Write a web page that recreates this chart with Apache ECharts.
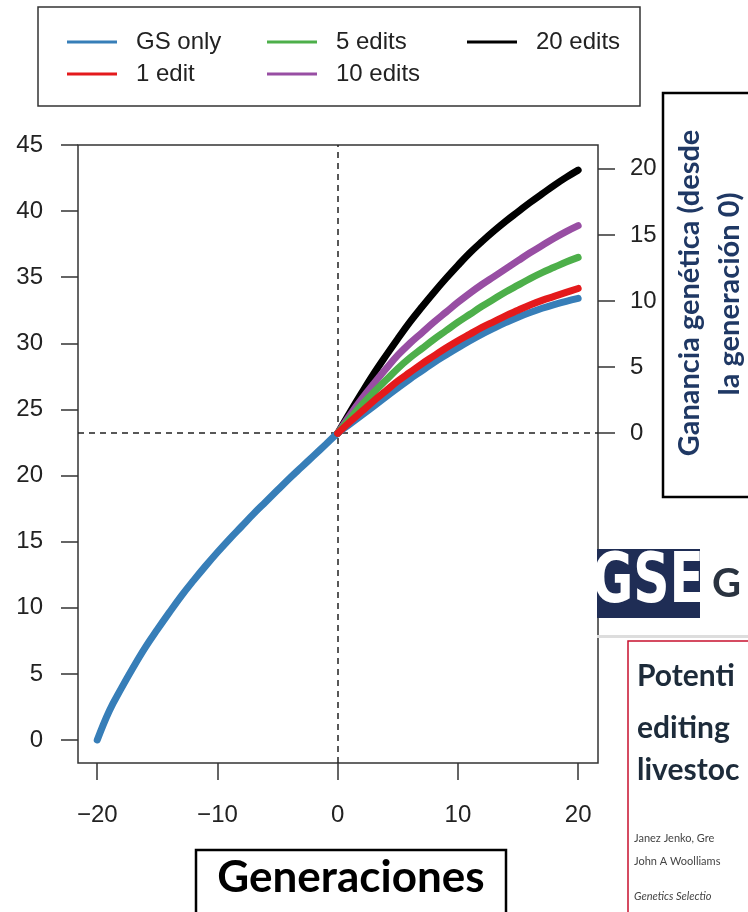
<!DOCTYPE html>
<html>
<head>
<meta charset="utf-8">
<script src="https://cdn.jsdelivr.net/npm/echarts@6/dist/echarts.min.js"></script>
<style>
  html, body { margin: 0; padding: 0; background: #fff; }
  #chart { width: 748px; height: 912px; }
</style>
</head>
<body>
<div id="chart"></div>
<script>
// generations on the x axis
var genAll = [-20, -19, -18, -17, -16, -15, -14, -13, -12, -11, -10, -9, -8, -7, -6, -5, -4, -3, -2, -1,
  0, 1, 2, 3, 4, 5, 6, 7, 8, 9, 10, 11, 12, 13, 14, 15, 16, 17, 18, 19, 20];
var genEdit = [0, 1, 2, 3, 4, 5, 6, 7, 8, 9, 10, 11, 12, 13, 14, 15, 16, 17, 18, 19, 20];

// GS only, left axis (genetic level)
var gsOnly = [0, 2.2, 3.9, 5.5, 7.0, 8.35, 9.65, 10.9, 12.05, 13.15, 14.2, 15.2, 16.15, 17.1, 18.0, 18.9, 19.8, 20.65, 21.5, 22.35,
  23.2, 23.88, 24.56, 25.25, 25.95, 26.63, 27.3, 27.92, 28.55, 29.12, 29.67, 30.2, 30.7, 31.15, 31.58, 31.98, 32.33, 32.65, 32.93, 33.18, 33.4];

// editing scenarios, right axis (gain since generation 0)
var edit1 = [0, 0.85, 1.65, 2.45, 3.2, 3.95, 4.6, 5.25, 5.85, 6.45, 7.0, 7.5, 8.0, 8.45, 8.9, 9.3, 9.7, 10.05, 10.35, 10.65, 10.95];
var edit5 = [0, 1.1, 2.15, 3.1, 4.0, 4.9, 5.7, 6.4, 7.1, 7.75, 8.4, 9.0, 9.6, 10.15, 10.7, 11.2, 11.7, 12.15, 12.55, 12.95, 13.3];
var edit10 = [0, 1.35, 2.6, 3.75, 4.85, 5.9, 6.8, 7.6, 8.4, 9.15, 9.9, 10.6, 11.25, 11.85, 12.45, 13.05, 13.65, 14.2, 14.75, 15.25, 15.7];
var edit20 = [0, 1.55, 3.05, 4.5, 5.85, 7.15, 8.4, 9.55, 10.65, 11.7, 12.7, 13.65, 14.5, 15.3, 16.05, 16.75, 17.45, 18.1, 18.75, 19.35, 19.9];

var xTicks = [-20, -10, 0, 10, 20];
var leftTicks = [0, 5, 10, 15, 20, 25, 30, 35, 40, 45];
var rightTicks = [0, 5, 10, 15, 20];

var levelAtGen0 = 23.2;
var yMin = -1.74, yMax = 45;

function pairs(xs, ys) {
  return xs.map(function (x, i) { return [x, ys[i]]; });
}

var axisFont = 'Liberation Sans, Arial, sans-serif';
var tickStyle = { color: '#333', width: 1.5 };
var curveStyle = { width: 7, cap: 'round', join: 'round' };

var dom = document.getElementById('chart');
var chart = echarts.init(dom);

var option = {
  animation: false,
  backgroundColor: '#fff',
  color: ['#377EB8', '#000000', '#984EA3', '#4DAF4A', '#E41A1C'],
  legend: [
    {
      data: ['GS only', '5 edits', '20 edits'],
      left: 62, top: 25,
      icon: 'rect', itemWidth: 50, itemHeight: 3, itemGap: 0,
      textStyle: { fontFamily: axisFont, fontSize: 24, color: '#222', width: 131, padding: [0, 0, 0, 14], lineHeight: 24 },
      selectedMode: false
    },
    {
      data: ['1 edit', '10 edits'],
      left: 62, top: 57,
      icon: 'rect', itemWidth: 50, itemHeight: 3, itemGap: 0,
      textStyle: { fontFamily: axisFont, fontSize: 24, color: '#222', width: 131, padding: [0, 0, 0, 14], lineHeight: 24 },
      selectedMode: false
    }
  ],
  grid: {
    left: 78, right: 150, top: 145, bottom: 149,
    show: true, borderColor: '#333', borderWidth: 1.5, backgroundColor: '#fff'
  },
  xAxis: {
    type: 'value', min: -21.6, max: 21.65,
    axisLine: { show: false, onZero: false },
    splitLine: { show: false },
    axisTick: { show: true, length: 17, lineStyle: tickStyle, customValues: xTicks },
    axisLabel: {
      customValues: xTicks, margin: 40, fontFamily: axisFont, fontSize: 24, color: '#222',
      formatter: function (v) { return String(v).replace('-', '\u2212'); }
    }
  },
  yAxis: [
    {
      type: 'value', min: yMin, max: yMax, position: 'left',
      axisLine: { show: false, onZero: false },
      splitLine: { show: false },
      axisTick: { show: true, length: 17, lineStyle: tickStyle, customValues: leftTicks },
      axisLabel: { customValues: leftTicks, margin: 35, fontFamily: axisFont, fontSize: 24, color: '#222' }
    },
    {
      type: 'value', min: yMin - levelAtGen0, max: yMax - levelAtGen0, position: 'right',
      axisLine: { show: false, onZero: false },
      splitLine: { show: false },
      axisTick: { show: true, length: 17, lineStyle: tickStyle, customValues: rightTicks },
      axisLabel: { customValues: rightTicks, margin: 32, fontFamily: axisFont, fontSize: 24, color: '#222' }
    }
  ],
  series: [
    {
      name: 'GS only', type: 'line', showSymbol: false, smooth: 0.4, data: pairs(genAll, gsOnly),
      lineStyle: curveStyle,
      markLine: {
        silent: true, symbol: 'none', z: 1,
        label: { show: false },
        lineStyle: { color: '#222', type: [6, 5], width: 1.5 },
        data: [{ xAxis: 0 }, { yAxis: levelAtGen0 }]
      }
    },
    { name: '20 edits', type: 'line', yAxisIndex: 1, showSymbol: false, smooth: 0.4, data: pairs(genEdit, edit20), lineStyle: curveStyle },
    { name: '10 edits', type: 'line', yAxisIndex: 1, showSymbol: false, smooth: 0.4, data: pairs(genEdit, edit10), lineStyle: curveStyle },
    { name: '5 edits', type: 'line', yAxisIndex: 1, showSymbol: false, smooth: 0.4, data: pairs(genEdit, edit5), lineStyle: curveStyle },
    { name: '1 edit', type: 'line', yAxisIndex: 1, showSymbol: false, smooth: 0.4, data: pairs(genEdit, edit1), lineStyle: curveStyle }
  ],
  graphic: [
    // legend frame
    { type: 'rect', shape: { x: 38, y: 7, width: 602, height: 99 }, style: { fill: 'none', stroke: '#333', lineWidth: 1.5 }, silent: true },
    // right axis title box
    { type: 'rect', shape: { x: 663, y: 93, width: 110, height: 404 }, style: { fill: 'none', stroke: '#000', lineWidth: 2.5 }, silent: true },
    { type: 'text', x: 690, y: 293, rotation: Math.PI / 2, silent: true,
      style: { text: 'Ganancia genética (desde', fill: '#1F3864', font: 'bold 29px Lato, "Open Sans", sans-serif', textAlign: 'center', textVerticalAlign: 'middle' } },
    { type: 'text', x: 730, y: 294, rotation: Math.PI / 2, silent: true,
      style: { text: 'la generación 0)', fill: '#1F3864', font: 'bold 29px Lato, "Open Sans", sans-serif', textAlign: 'center', textVerticalAlign: 'middle' } },
    // x axis title box
    { type: 'rect', shape: { x: 196, y: 850, width: 310, height: 90 }, style: { fill: 'none', stroke: '#000', lineWidth: 2.5 }, silent: true },
    { type: 'text', x: 351, y: 878, silent: true,
      style: { text: 'Generaciones', fill: '#000', font: 'bold 44px Lato, "Open Sans", sans-serif', textAlign: 'center', textVerticalAlign: 'middle' } },
    // journal header snippet
    { type: 'rect', shape: { x: 597, y: 549, width: 103, height: 69 }, style: { fill: '#1F2D55' }, silent: true },
    { type: 'text', x: 648, y: 584, silent: true, scaleX: 0.8,
      style: { text: 'GSE', fill: '#fff', font: 'bold 70px "Liberation Sans Narrow", "DejaVu Sans Condensed", sans-serif', textAlign: 'center', textVerticalAlign: 'middle' } },
    { type: 'text', x: 712, y: 584, silent: true,
      style: { text: 'G', fill: '#2A3340', font: 'bold 40px Lato, sans-serif', textAlign: 'left', textVerticalAlign: 'middle' } },
    { type: 'rect', shape: { x: 597, y: 635, width: 160, height: 3 }, style: { fill: '#DDDDDD' }, silent: true },
    { type: 'rect', shape: { x: 628, y: 641, width: 140, height: 300 }, style: { fill: 'none', stroke: '#C8102E', lineWidth: 1.5 }, silent: true },
    { type: 'text', x: 637, y: 676, silent: true,
      style: { text: 'Potenti', fill: '#1D2B3A', font: 'bold 30px Lato, sans-serif', textAlign: 'left', textVerticalAlign: 'middle' } },
    { type: 'text', x: 637, y: 728, silent: true,
      style: { text: 'editing', fill: '#1D2B3A', font: 'bold 30px Lato, sans-serif', textAlign: 'left', textVerticalAlign: 'middle' } },
    { type: 'text', x: 637, y: 770, silent: true,
      style: { text: 'livestoc', fill: '#1D2B3A', font: 'bold 30px Lato, sans-serif', textAlign: 'left', textVerticalAlign: 'middle' } },
    { type: 'text', x: 634, y: 838, silent: true,
      style: { text: 'Janez Jenko, Gre', fill: '#444', font: '11px Lato, sans-serif', textAlign: 'left', textVerticalAlign: 'middle' } },
    { type: 'text', x: 634, y: 861, silent: true,
      style: { text: 'John A Woolliams', fill: '#444', font: '11px Lato, sans-serif', textAlign: 'left', textVerticalAlign: 'middle' } },
    { type: 'text', x: 634, y: 896, silent: true,
      style: { text: 'Genetics Selectio', fill: '#444', font: 'italic 11px Lato, sans-serif', textAlign: 'left', textVerticalAlign: 'middle' } }
  ]
};
chart.setOption(option, true);
</script>
</body>
</html>
